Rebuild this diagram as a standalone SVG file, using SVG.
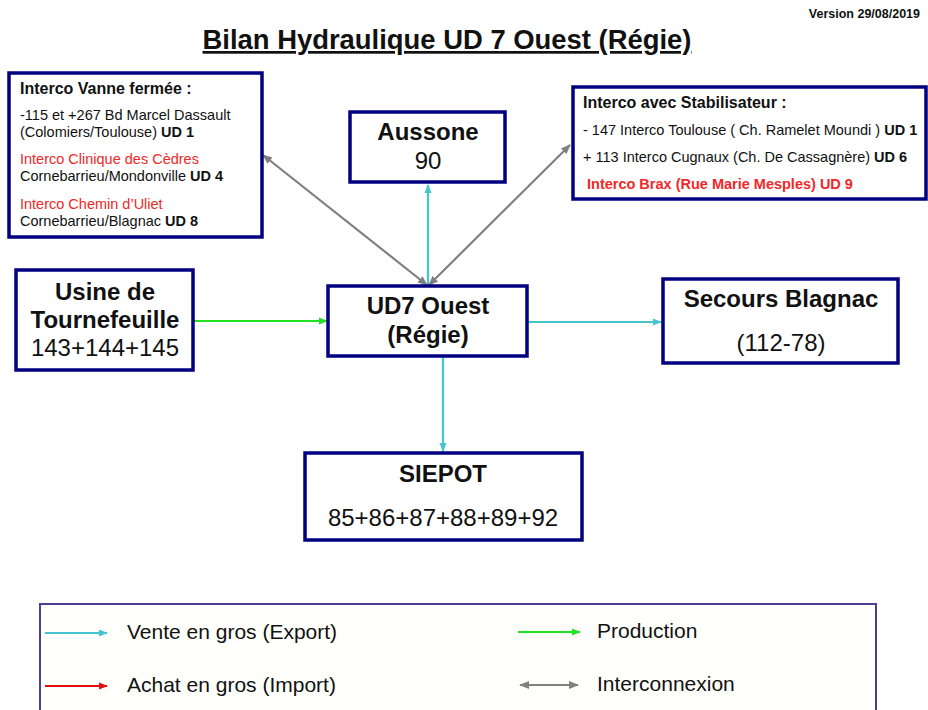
<svg xmlns="http://www.w3.org/2000/svg" width="928" height="710" viewBox="0 0 928 710">
<style>
text{font-family:"Liberation Sans",Arial,sans-serif;fill:#111}
.b{font-weight:bold}
.box{fill:#fff;stroke:#000080;stroke-width:3.5}
.big{font-size:24px;text-anchor:middle}
.h{font-size:16px;font-weight:bold}
.t{font-size:14.5px}
.red{fill:#f02828}
.leg{font-size:21px}
.cy{stroke:#45c6cc;stroke-width:2.2;fill:none}
.gr{stroke:#22e022;stroke-width:2.2;fill:none}
.rd{stroke:#e01010;stroke-width:2.2;fill:none}
.gy{stroke:#808080;stroke-width:2.2;fill:none}
</style>
<defs>
<marker id="aC" viewBox="0 0 10 10" refX="9" refY="5" markerWidth="9" markerHeight="9" markerUnits="userSpaceOnUse" orient="auto"><path d="M0,1 L10,5 L0,9 z" fill="#45c6cc"/></marker>
<marker id="aG" viewBox="0 0 10 10" refX="9" refY="5" markerWidth="9" markerHeight="9" markerUnits="userSpaceOnUse" orient="auto"><path d="M0,1 L10,5 L0,9 z" fill="#22e022"/></marker>
<marker id="aR" viewBox="0 0 10 10" refX="9" refY="5" markerWidth="9" markerHeight="9" markerUnits="userSpaceOnUse" orient="auto"><path d="M0,1 L10,5 L0,9 z" fill="#e01010"/></marker>
<marker id="aY" viewBox="0 0 10 10" refX="9" refY="5" markerWidth="10" markerHeight="10" markerUnits="userSpaceOnUse" orient="auto-start-reverse"><path d="M0,1 L10,5 L0,9 z" fill="#808080"/></marker>
</defs>

<text x="920" y="18" text-anchor="end" class="b" font-size="12.5">Version 29/08/2019</text>
<text x="447" y="49" text-anchor="middle" class="b" font-size="27" text-decoration="underline" textLength="489" lengthAdjust="spacingAndGlyphs">Bilan Hydraulique UD 7 Ouest (Régie)</text>

<g id="connectors">
<line class="gy" x1="427" y1="285" x2="263" y2="155" marker-start="url(#aY)" marker-end="url(#aY)"/>
<line class="gy" x1="429" y1="285" x2="570" y2="145" marker-start="url(#aY)" marker-end="url(#aY)"/>
<line class="cy" x1="428" y1="285" x2="428" y2="185" marker-end="url(#aC)"/>
<line class="gr" x1="194" y1="321" x2="327" y2="321" marker-end="url(#aG)"/>
<line class="cy" x1="528" y1="322" x2="661" y2="322" marker-end="url(#aC)"/>
<line class="cy" x1="443" y1="357" x2="443" y2="451" marker-end="url(#aC)"/>
</g>

<g id="interco-vanne">
<rect class="box" x="9" y="73" width="253" height="164"/>
<text x="20" y="94" class="h">Interco Vanne fermée :</text>
<text x="20" y="120" class="t">-115 et +267 Bd Marcel Dassault</text>
<text x="20" y="137" class="t">(Colomiers/Toulouse) <tspan class="b">UD 1</tspan></text>
<text x="20" y="164" class="t red">Interco Clinique des Cèdres</text>
<text x="20" y="181" class="t">Cornebarrieu/Mondonville <tspan class="b">UD 4</tspan></text>
<text x="20" y="209" class="t red">Interco Chemin d’Uliet</text>
<text x="20" y="226" class="t">Cornebarrieu/Blagnac <tspan class="b">UD 8</tspan></text>
</g>

<g id="aussone">
<rect class="box" x="350" y="112" width="155" height="70"/>
<text x="428" y="140" class="big b">Aussone</text>
<text x="428" y="169" class="big">90</text>
</g>

<g id="interco-stab">
<rect class="box" x="573" y="87" width="353" height="112"/>
<text x="583" y="108" class="h">Interco avec Stabilisateur :</text>
<text x="583" y="135" class="t">- 147 Interco Toulouse ( Ch. Ramelet Moundi ) <tspan class="b">UD 1</tspan></text>
<text x="583" y="162" class="t">+ 113 Interco Cugnaux (Ch. De Cassagnère) <tspan class="b">UD 6</tspan></text>
<text x="587" y="189" class="t red b">Interco Brax (Rue Marie Mesples) UD 9</text>
</g>

<g id="usine">
<rect class="box" x="16" y="270" width="177" height="100"/>
<text x="105" y="300" class="big b">Usine de</text>
<text x="105" y="328" class="big b">Tournefeuille</text>
<text x="105" y="356" class="big">143+144+145</text>
</g>

<g id="ud7">
<rect class="box" x="328" y="286" width="199" height="70"/>
<text x="428" y="314" class="big b">UD7 Ouest</text>
<text x="428" y="343" class="big b">(Régie)</text>
</g>

<g id="secours">
<rect class="box" x="663" y="279" width="235" height="84"/>
<text x="781" y="307" class="big b">Secours Blagnac</text>
<text x="781" y="351" class="big">(112-78)</text>
</g>

<g id="siepot">
<rect class="box" x="305" y="453" width="277" height="87"/>
<text x="443" y="482" class="big b">SIEPOT</text>
<text x="443" y="526" class="big">85+86+87+88+89+92</text>
</g>

<g id="legend">
<rect x="40" y="604" width="836" height="120" fill="#fffffc" stroke="#4a3f98" stroke-width="2"/>
<line class="cy" x1="45" y1="633" x2="107" y2="633" marker-end="url(#aC)"/>
<text x="127" y="639" class="leg">Vente en gros (Export)</text>
<line class="gr" x1="518" y1="632" x2="580" y2="632" marker-end="url(#aG)"/>
<text x="597" y="638" class="leg">Production</text>
<line class="rd" x1="45" y1="686" x2="107" y2="686" marker-end="url(#aR)"/>
<text x="127" y="692" class="leg">Achat en gros (Import)</text>
<line class="gy" x1="520" y1="685" x2="578" y2="685" marker-start="url(#aY)" marker-end="url(#aY)"/>
<text x="597" y="691" class="leg">Interconnexion</text>
</g>
</svg>
